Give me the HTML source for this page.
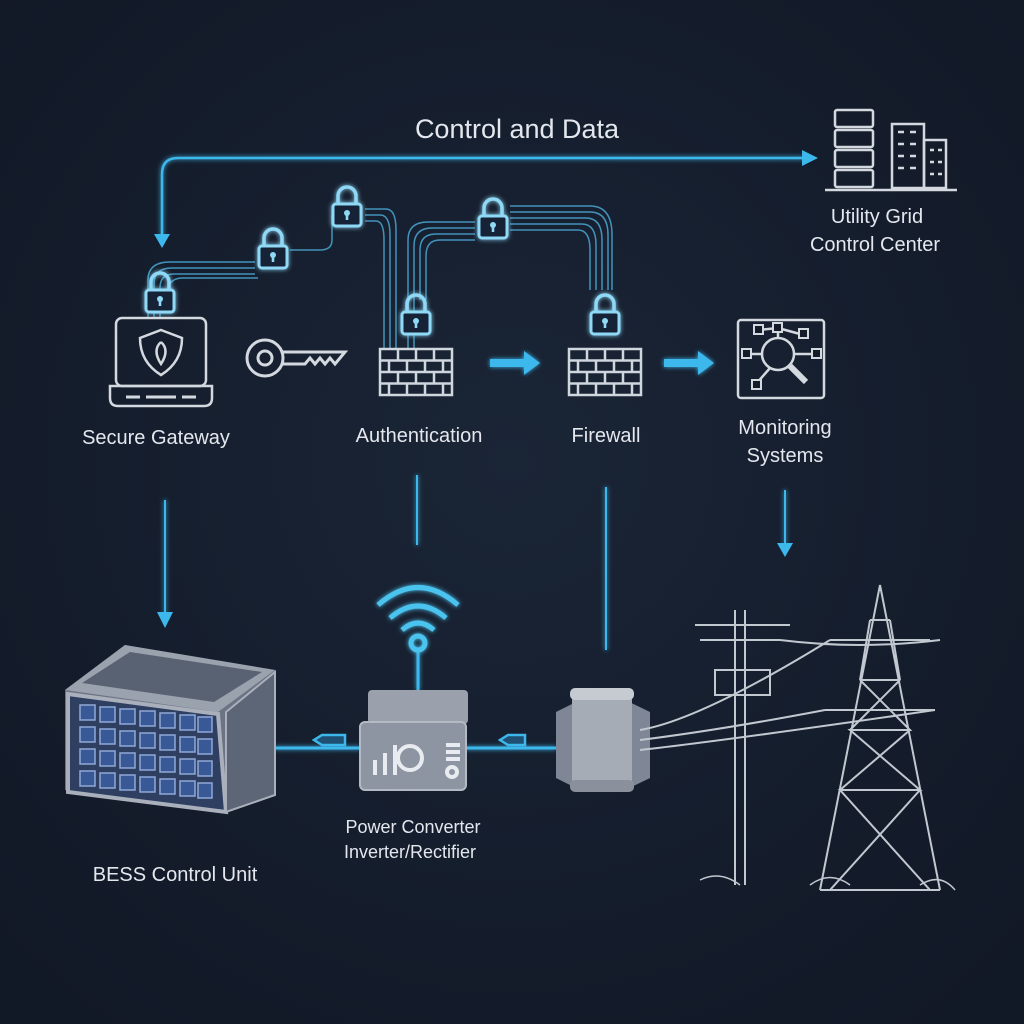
<!DOCTYPE html>
<html><head><meta charset="utf-8"><style>
html,body{margin:0;padding:0;background:#141c2a;}
svg{display:block}
text{font-family:"Liberation Sans",sans-serif;fill:#e4e8ee}
</style></head><body>
<svg width="1024" height="1024" viewBox="0 0 1024 1024" xmlns="http://www.w3.org/2000/svg">
<defs>
<radialGradient id="bg" cx="50%" cy="45%" r="70%"><stop offset="0" stop-color="#1a2536"/><stop offset="1" stop-color="#111826"/></radialGradient>
<filter id="gl"><feGaussianBlur stdDeviation="2.5" result="b"/><feMerge><feMergeNode in="b"/><feMergeNode in="SourceGraphic"/></feMerge></filter>
<g id="lock"><path d="M-9,-4 v-8 a9,9 0 0 1 18,0 v8" fill="none" stroke="#8fd8f6" stroke-width="3.5"/><rect x="-14" y="-4" width="28" height="22" rx="3" fill="#132236" stroke="#8fd8f6" stroke-width="3"/><circle cx="0" cy="5" r="3" fill="#8fd8f6"/><rect x="-1.3" y="6" width="2.6" height="6" fill="#8fd8f6"/></g>
<g id="wall" fill="none" stroke="#d0d6de" stroke-width="2.5"><rect x="0" y="0" width="72" height="46"/><path d="M0,11.5h72M0,23h72M0,34.5h72M18,0v11.5M36,0v11.5M54,0v11.5M9,11.5v11.5M27,11.5v11.5M45,11.5v11.5M63,11.5v11.5M18,23v11.5M36,23v11.5M54,23v11.5M9,34.5v11.5M27,34.5v11.5M45,34.5v11.5M63,34.5v11.5"/></g>
</defs>
<rect width="1024" height="1024" fill="url(#bg)"/>

<text x="517" y="138" font-size="27" text-anchor="middle">Control and Data</text>

<g stroke="#3cb8ec" stroke-width="2.5" fill="none" filter="url(#gl)">
<path d="M805,158 H178 Q162,158 162,174 V236"/>
</g>
<path d="M802,150 L818,158 L802,166Z" fill="#3cb8ec"/>
<path d="M154,234 L162,248 L170,234Z" fill="#3cb8ec"/>

<!-- building -->
<g fill="none" stroke="#d4d9e0" stroke-width="2.5">
<rect x="835" y="110" width="38" height="17" rx="2"/><rect x="835" y="130" width="38" height="17" rx="2"/><rect x="835" y="150" width="38" height="17" rx="2"/><rect x="835" y="170" width="38" height="17" rx="2"/>
<rect x="892" y="124" width="32" height="64"/><rect x="924" y="140" width="22" height="48"/>
<path d="M825,190 H957"/>
<path d="M898,132h6M910,132h6M898,144h6M910,144h6M898,156h6M910,156h6M898,168h6M910,168h6M930,150h4M938,150h4M930,162h4M938,162h4M930,174h4M938,174h4"/>
</g>
<text x="877" y="223" font-size="20" text-anchor="middle">Utility Grid</text>
<text x="875" y="251" font-size="20" text-anchor="middle">Control Center</text>

<!-- cable bundles -->
<g fill="none" stroke="#4aa8d4" stroke-width="1.5" opacity="0.85">
<path d="M148,318 V280 Q148,262 170,262 H255"/><path d="M154,318 V284 Q154,268 172,268 H255"/><path d="M160,318 V288 Q160,274 174,274 H255"/>
<path d="M166,300 Q166,278 182,278 H258"/>
<path d="M290,250 H320 Q332,250 332,240 V215"/>
<path d="M365,215 H380 Q390,215 390,235 V348"/><path d="M365,221 H376 Q384,221 384,240 V348"/><path d="M365,209 H386 Q396,209 396,230 V348"/>
<path d="M408,348 V240 Q408,222 428,222 H475"/><path d="M414,348 V246 Q414,228 432,228 H475"/><path d="M420,300 V250 Q420,234 436,234 H475"/><path d="M426,300 V256 Q426,240 440,240 H475"/>
<path d="M510,212 H590 Q608,212 608,235 V290"/><path d="M510,218 H586 Q602,218 602,240 V290"/><path d="M510,224 H582 Q596,224 596,245 V290"/><path d="M510,230 H578 Q590,230 590,250 V290"/>
<path d="M612,290 V235 Q612,206 590,206 H510"/>
</g>
<g filter="url(#gl)">
<use href="#lock" x="273" y="250"/><use href="#lock" x="160" y="294"/><use href="#lock" x="347" y="208"/>
<use href="#lock" x="493" y="220"/><use href="#lock" x="416" y="316"/><use href="#lock" x="605" y="316"/>
</g>

<!-- laptop -->
<g fill="none" stroke="#d4d9e0" stroke-width="2.5">
<rect x="116" y="318" width="90" height="68" rx="6"/>
<path d="M110,386 H212 V398 Q212,406 204,406 H118 Q110,406 110,398Z"/>
<path d="M126,397h14M146,397h30M182,397h14" stroke-width="3"/>
<path d="M161,330 L182,338 Q182,362 161,375 Q140,362 140,338Z"/>
<path d="M161,342 Q170,350 161,364 Q152,350 161,342" />
</g>
<!-- key -->
<g fill="none" stroke="#d4d9e0" stroke-width="3">
<circle cx="265" cy="358" r="18"/><circle cx="265" cy="358" r="7"/>
<path d="M283,352 H345 L340,358 L335,364 L330,358 L325,364 L320,358 L315,364 L310,358 L305,364 H283"/>
</g>
<use href="#wall" x="380" y="349"/>
<use href="#wall" x="569" y="349"/>
<g fill="#3cb8ec" filter="url(#gl)">
<path d="M490,359 h34 v-8 l16,12 l-16,12 v-8 h-34z"/>
<path d="M664,359 h34 v-8 l16,12 l-16,12 v-8 h-34z"/>
</g>
<!-- monitoring -->
<g fill="none" stroke="#d4d9e0" stroke-width="2.5">
<rect x="738" y="320" width="86" height="78" rx="3"/>
<circle cx="778" cy="354" r="16"/><path d="M790,366 L806,382" stroke-width="6"/>
<path d="M778,338 V328M762,354 H748M794,354 H812M770,368 L756,384M778,328 L758,330M778,328 L800,334"/>
</g>
<g fill="#141c2a" stroke="#d4d9e0" stroke-width="2"><rect x="773" y="323" width="9" height="9"/><rect x="742" y="349" width="9" height="9"/><rect x="812" y="349" width="9" height="9"/><rect x="752" y="380" width="9" height="9"/><rect x="754" y="325" width="9" height="9"/><rect x="799" y="329" width="9" height="9"/></g>

<text x="156" y="444" font-size="20" text-anchor="middle">Secure Gateway</text>
<text x="419" y="442" font-size="20" text-anchor="middle">Authentication</text>
<text x="606" y="442" font-size="20" text-anchor="middle">Firewall</text>
<text x="785" y="434" font-size="20" text-anchor="middle">Monitoring</text>
<text x="785" y="462" font-size="20" text-anchor="middle">Systems</text>

<!-- vertical connectors -->
<g stroke="#3cb8ec" stroke-width="2" fill="none" filter="url(#gl)">
<path d="M165,500 V615"/><path d="M417,475 V545"/><path d="M606,487 V650"/><path d="M785,490 V545"/>
<path d="M418,650 V690" stroke-width="3"/>
<path d="M275,748 H360 M465,748 H556" stroke-width="3"/>
</g>
<path d="M157,612 L165,628 L173,612Z" fill="#3cb8ec"/>
<path d="M777,543 L785,557 L793,543Z" fill="#3cb8ec"/>
<g fill="none" stroke="#3cb8ec" stroke-width="2.5"><path d="M345,735 H322 L314,740 L322,745 H345Z" fill="#1f4f72"/><path d="M525,735 H508 L500,740 L508,745 H525Z" fill="#1f4f72"/></g>

<!-- wifi -->
<g fill="none" stroke="#4cc3ef" stroke-width="5" filter="url(#gl)">
<path d="M378,605 Q418,570 458,605"/><path d="M390,618 Q418,594 446,618"/><path d="M402,630 Q418,616 434,630"/>
<circle cx="418" cy="643" r="7"/>
</g>

<!-- container -->
<g>
<path d="M65,690 L125,645 L275,670 L275,795 L225,812 L65,790Z" fill="#6b7384"/>
<path d="M65,690 L125,645 L275,670 L218,712Z" fill="#9aa2ae"/>
<path d="M82,683 L130,652 L262,672 L214,702Z" fill="#596272"/>
<path d="M68,694 L218,714 L226,812 L68,792Z" fill="#2e3f62" stroke="#a9b0bb" stroke-width="4"/>
<g stroke="#9bb4e4" stroke-width="1.5" fill="#3b5c9c" opacity="0.9">
<rect x="80" y="705" width="15" height="15"/><rect x="100" y="707" width="15" height="15"/><rect x="120" y="709" width="15" height="15"/><rect x="140" y="711" width="15" height="15"/><rect x="160" y="713" width="15" height="15"/><rect x="180" y="715" width="15" height="15"/><rect x="198" y="717" width="14" height="15"/>
<rect x="80" y="727" width="15" height="15"/><rect x="100" y="729" width="15" height="15"/><rect x="120" y="731" width="15" height="15"/><rect x="140" y="733" width="15" height="15"/><rect x="160" y="735" width="15" height="15"/><rect x="180" y="737" width="15" height="15"/><rect x="198" y="739" width="14" height="15"/>
<rect x="80" y="749" width="15" height="15"/><rect x="100" y="751" width="15" height="15"/><rect x="120" y="753" width="15" height="15"/><rect x="140" y="755" width="15" height="15"/><rect x="160" y="757" width="15" height="15"/><rect x="180" y="759" width="15" height="15"/><rect x="198" y="761" width="14" height="15"/>
<rect x="80" y="771" width="15" height="15"/><rect x="100" y="773" width="15" height="15"/><rect x="120" y="775" width="15" height="15"/><rect x="140" y="777" width="15" height="15"/><rect x="160" y="779" width="15" height="15"/><rect x="180" y="781" width="15" height="15"/><rect x="198" y="783" width="14" height="15"/>
</g>
<path d="M226,712 L275,672 L275,795 L226,812Z" fill="#5d6676" stroke="#a9b0bb" stroke-width="2"/>
</g>
<!-- converter -->
<rect x="368" y="690" width="100" height="34" rx="4" fill="#9aa1ac"/>
<rect x="360" y="722" width="106" height="68" rx="5" fill="#8d95a2" stroke="#b4bac4" stroke-width="2"/>
<g fill="none" stroke="#e8ebef" stroke-width="4"><path d="M375,775v-15M385,775v-22M395,775v-30"/><circle cx="410" cy="758" r="12"/><path d="M446,745h14M446,752h14M446,759h14"/><circle cx="452" cy="772" r="5"/></g>
<!-- transformer -->
<path d="M556,712 L580,700 V790 L556,778Z" fill="#7f8796"/>
<path d="M625,700 L650,712 V778 L625,790Z" fill="#7f8796"/>
<rect x="572" y="690" width="60" height="100" rx="10" fill="#a5acb6"/>
<rect x="570" y="688" width="64" height="12" rx="5" fill="#c6cbd2"/><rect x="570" y="780" width="64" height="12" rx="5" fill="#8a919c"/>
<!-- poles & towers -->
<g fill="none" stroke="#c2c8d0" stroke-width="2">
<path d="M735,610 V885M745,610 V885M695,625 H790M700,640 H780M715,670 h55 v25 h-55z"/>
<path d="M880,585 L820,890 M880,585 L940,890 M820,890 L940,890 M860,680 L900,680 M850,730 L910,730 M840,790 L920,790 M870,620 L890,620 M830,640 L930,640 M825,710 L935,710 M860,680 L910,730 L850,730 L920,790 L840,790 L930,890 M900,680 L850,730 M910,730 L840,790 M920,790 L830,890 M870,620 L860,680 M890,620 L900,680"/>
<path d="M640,730 Q700,720 830,640 M640,740 Q720,730 825,710 M640,750 Q730,740 935,710 M780,640 Q860,650 940,640"/>
<path d="M700,880 Q720,870 740,885 M810,885 Q830,870 850,885 M920,885 Q940,872 955,890" stroke-width="1.5"/>
</g>

<text x="175" y="881" font-size="20" text-anchor="middle">BESS Control Unit</text>
<text x="413" y="833" font-size="18" text-anchor="middle">Power Converter</text>
<text x="410" y="858" font-size="18" text-anchor="middle">Inverter/Rectifier</text>
</svg>
</body></html>
